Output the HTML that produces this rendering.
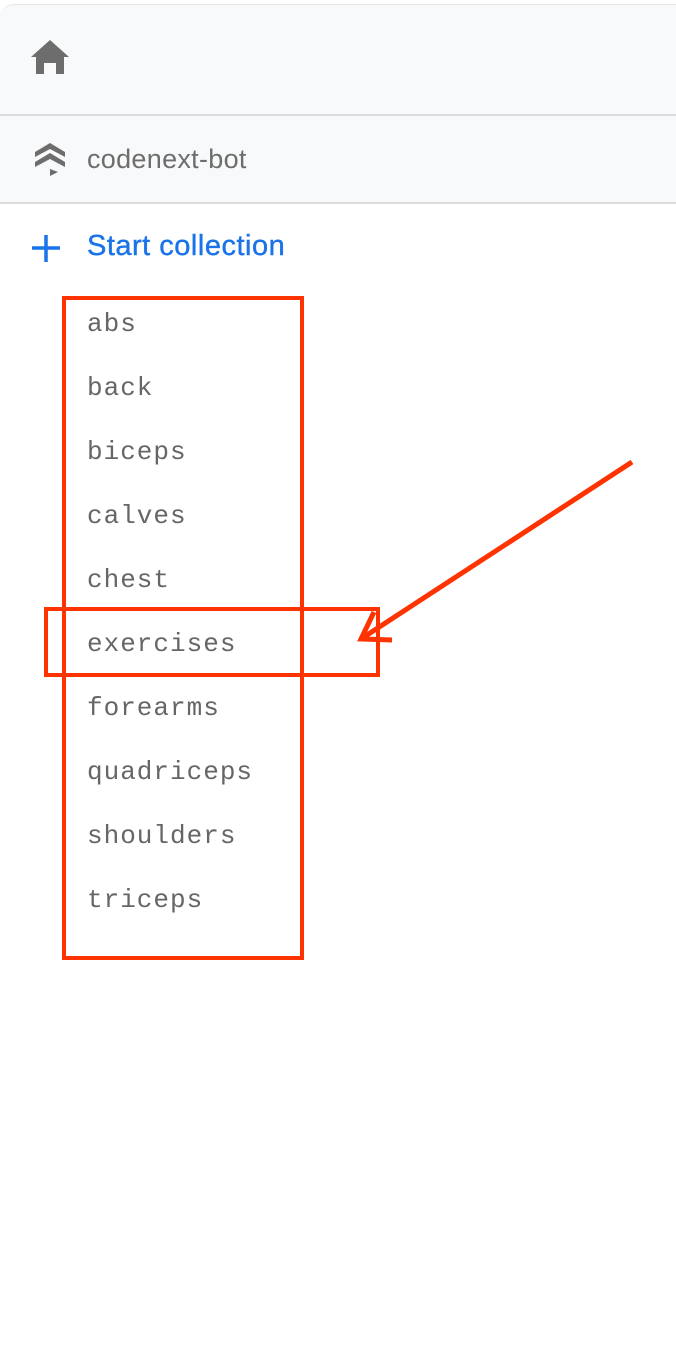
<!DOCTYPE html>
<html><head><style>
body{margin:0;width:676px;height:1371px;background:#fff;position:relative;overflow:hidden;font-family:"Liberation Sans",sans-serif}
.top{position:absolute;left:0;top:4px;width:676px;height:198px;background:#f8f9fa;border-top-left-radius:14px;border-top:1px solid #e6e6e6}
.l{position:absolute;left:0;width:676px;height:2px;background:#dcdcdc}
.it{position:absolute;left:87px;font-family:"Liberation Mono",monospace;font-size:26px;color:#666;letter-spacing:1px}
</style></head><body>
<div class="top"></div>
<div class="l" style="top:114px"></div>
<div class="l" style="top:202px"></div>
<svg style="position:absolute;left:0;top:0" width="676" height="1371">
<path d="M50 40 L69 57 L64 57 L64 74 L56 74 L56 63 L44 63 L44 74 L36 74 L36 57 L31 57 Z" fill="#6d6d6d"/>
<path d="M35 152 L50 143 L65 152 L65 157 L50 149 L35 157Z M35 162 L50 153 L65 162 L65 167 L50 159 L35 167Z M50 169 L58 172 L50 176Z" fill="#6d6d6d"/>
<path d="M46 235 V262 M32 248 H60" stroke="#1a73e8" stroke-width="3.5"/>
<rect x="64" y="298" width="238" height="660" fill="none" stroke="#ff3300" stroke-width="4"/>
<rect x="46" y="609" width="332" height="66" fill="none" stroke="#ff3300" stroke-width="4"/>
<path d="M632 462 L364 637 M374 612 L361 639 L392 640" fill="none" stroke="#ff3300" stroke-width="5"/>
</svg>
<div style="position:absolute;left:87px;top:144px;font-size:27px;color:#6d6d6d;letter-spacing:0.3px">codenext-bot</div>
<div style="position:absolute;left:87px;top:230px;font-size:29px;color:#1a73e8;letter-spacing:0.5px;-webkit-text-stroke:0.4px #1a73e8">Start collection</div>
<div class="it" style="top:309px">abs</div>
<div class="it" style="top:373px">back</div>
<div class="it" style="top:437px">biceps</div>
<div class="it" style="top:501px">calves</div>
<div class="it" style="top:565px">chest</div>
<div class="it" style="top:629px">exercises</div>
<div class="it" style="top:693px">forearms</div>
<div class="it" style="top:757px">quadriceps</div>
<div class="it" style="top:821px">shoulders</div>
<div class="it" style="top:885px">triceps</div>
</body></html>
